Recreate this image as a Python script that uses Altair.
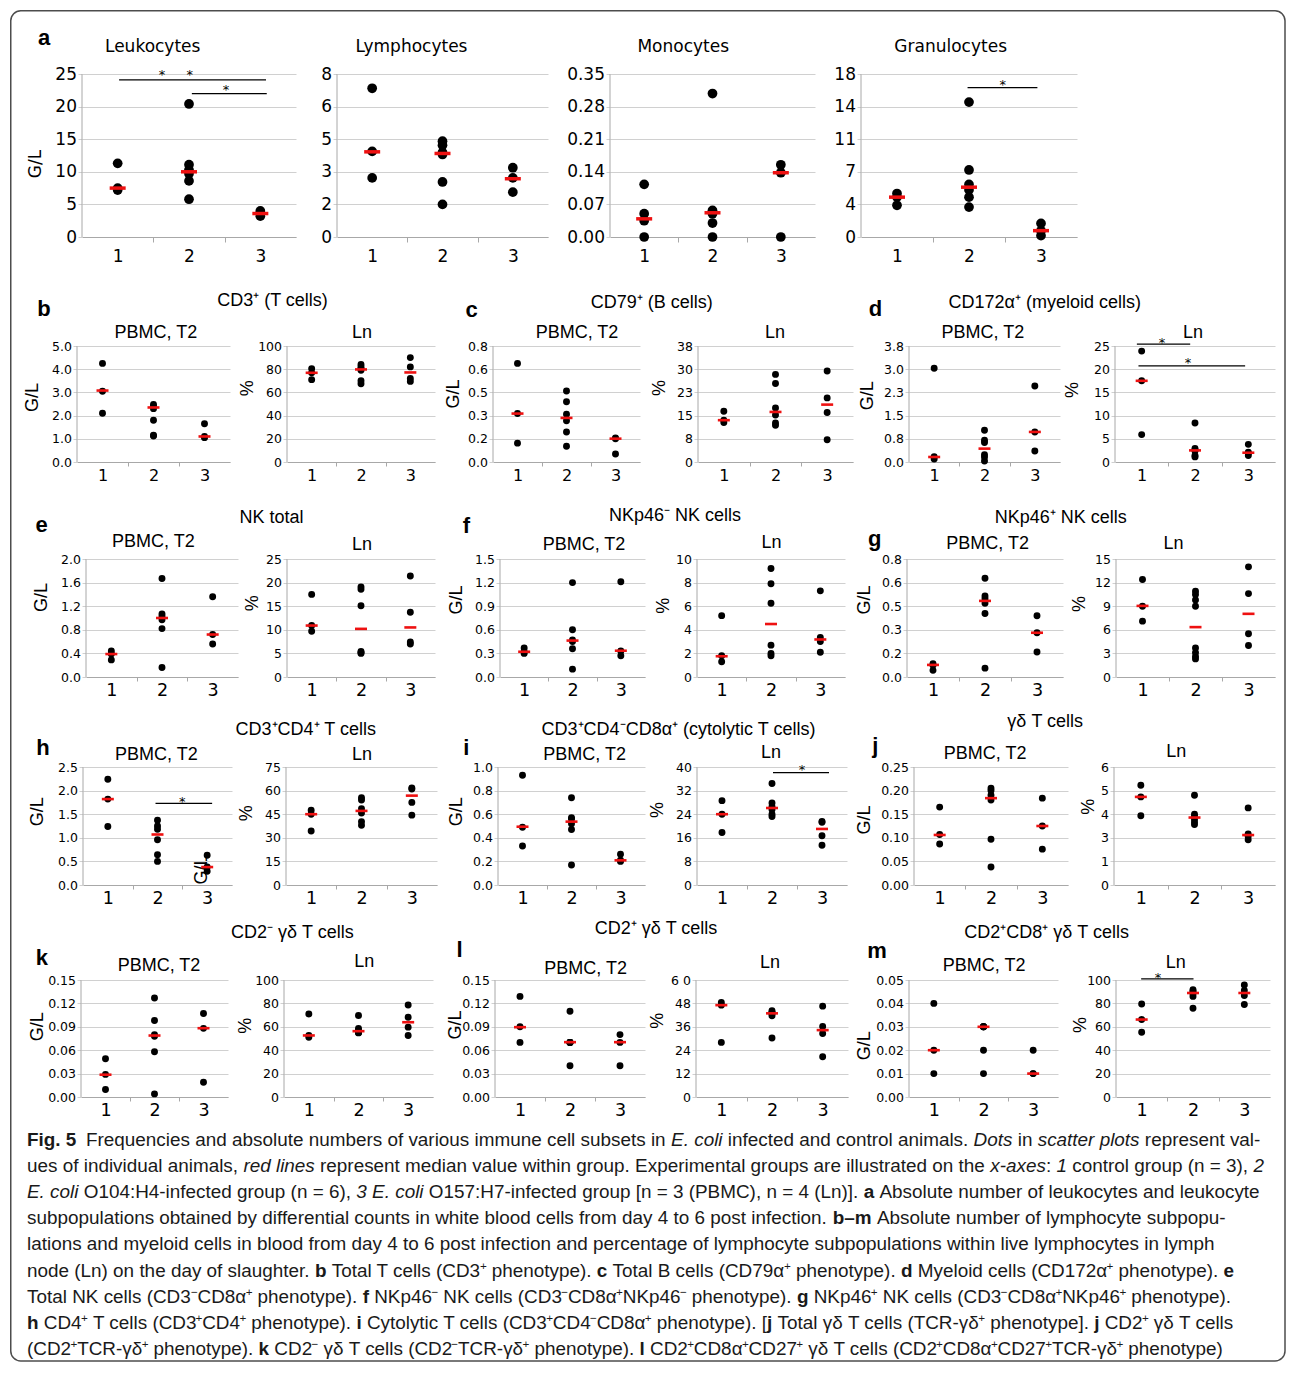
import json
import re
import altair as alt
import pandas as pd

# ------------------------------------------------------------------ data
GROUPS = [1, 2, 3]
X_LABELS = ["1", "2", "3"]

# a
leuko_pts = [[11.3, 7.5, 7.2], [20.4, 11.1, 10.3, 9.7, 8.6, 5.8], [4.0, 3.6, 3.2]]
leuko_med = [7.5, 10.0, 3.6]
leuko_ticks = ["0", "5", "10", "15", "20", "25"]
leuko_max = 25

lympho_pts = [[7.3, 4.2, 2.9], [4.7, 4.5, 4.15, 4.05, 2.7, 1.6], [3.4, 2.9, 2.2]]
lympho_med = [4.18, 4.1, 2.86]
lympho_ticks = ["0", "2", "3", "5", "6", "8"]
lympho_max = 8

mono_pts = [[0.113, 0.05, 0.035, 0.0], [0.308, 0.057, 0.054, 0.05, 0.03, 0.0], [0.155, 0.138, 0.0]]
mono_med = [0.039, 0.052, 0.138]
mono_ticks = ["0.00", "0.07", "0.14", "0.21", "0.28", "0.35"]
mono_max = 0.35

granulo_pts = [[4.8, 4.4, 3.5], [14.9, 7.4, 5.8, 5.2, 4.4, 3.3], [1.5, 0.7, 0.15]]
granulo_med = [4.4, 5.5, 0.7]
granulo_ticks = ["0", "4", "7", "11", "14", "18"]
granulo_max = 18

# b
cd3_pbmc_pts = [[4.25, 3.05, 2.1], [2.48, 2.4, 2.3, 1.8, 1.15, 1.12], [1.65, 1.1, 1.05]]
cd3_pbmc_med = [3.08, 2.35, 1.1]
cd3_pbmc_ticks = ["0.0", "1.0", "2.0", "3.0", "4.0", "5.0"]
cd3_pbmc_max = 5.0
cd3_ln_pts = [[80.5, 77.0, 71.0], [84.0, 82.0, 80.5, 79.0, 70.0, 67.5], [90.0, 82.0, 72.0, 69.5]]
cd3_ln_med = [76.9, 79.8, 77.2]
cd3_ln_ticks = ["0", "20", "40", "60", "80", "100"]
cd3_ln_max = 100
# c
cd79_pbmc_pts = [[0.68, 0.334, 0.13], [0.49, 0.415, 0.33, 0.285, 0.207, 0.108], [0.165, 0.16, 0.055]]
cd79_pbmc_med = [0.334, 0.304, 0.161]
cd79_pbmc_ticks = ["0.0", "0.2", "0.3", "0.5", "0.6", "0.8"]
cd79_pbmc_max = 0.8
cd79_ln_pts = [[16.6, 13.7, 12.9], [28.7, 25.7, 17.7, 15.4, 12.8, 12.0], [29.8, 21.0, 16.2, 7.3]]
cd79_ln_med = [13.7, 16.4, 18.8]
cd79_ln_ticks = ["0", "8", "15", "23", "30", "38"]
cd79_ln_max = 38
# d
cd172_pbmc_pts = [[3.07, 0.17, 0.1], [1.04, 0.71, 0.64, 0.24, 0.16, 0.03], [2.49, 0.985, 0.36]]
cd172_pbmc_med = [0.164, 0.438, 0.985]
cd172_pbmc_ticks = ["0.0", "0.8", "1.5", "2.3", "3.0", "3.8"]
cd172_pbmc_max = 3.8
cd172_ln_pts = [[23.9, 17.5, 5.9], [8.4, 2.9, 2.6, 2.4, 1.4, 1.1], [3.8, 2.1, 1.9, 1.4]]
cd172_ln_med = [17.5, 2.5, 2.0]
cd172_ln_ticks = ["0", "5", "10", "15", "20", "25"]
cd172_ln_max = 25
# e
nk_pbmc_pts = [[0.44, 0.39, 0.29], [1.67, 1.07, 1.03, 0.97, 0.82, 0.16], [1.36, 0.72, 0.56]]
nk_pbmc_med = [0.389, 1.0, 0.72]
nk_pbmc_ticks = ["0.0", "0.4", "0.8", "1.2", "1.6", "2.0"]
nk_pbmc_max = 2.0
nk_ln_pts = [[17.5, 10.9, 9.7], [19.1, 18.6, 15.1, 5.4, 5.2, 5.0], [21.4, 13.7, 7.4, 7.0]]
nk_ln_med = [10.9, 10.2, 10.5]
nk_ln_ticks = ["0", "5", "10", "15", "20", "25"]
nk_ln_max = 25
# f
nkp46neg_pbmc_pts = [[0.37, 0.32, 0.3], [1.2, 0.6, 0.47, 0.45, 0.36, 0.1], [1.21, 0.33, 0.27]]
nkp46neg_pbmc_med = [0.321, 0.463, 0.334]
nkp46neg_pbmc_ticks = ["0.0", "0.3", "0.6", "0.9", "1.2", "1.5"]
nkp46neg_pbmc_max = 1.5
nkp46neg_ln_pts = [[5.2, 1.8, 1.3], [9.2, 7.9, 6.25, 2.7, 2.0, 1.8], [7.3, 3.35, 3.0, 2.1]]
nkp46neg_ln_med = [1.76, 4.49, 3.18]
nkp46neg_ln_ticks = ["0", "2", "4", "6", "8", "10"]
nkp46neg_ln_max = 10
# g
nkp46pos_pbmc_pts = [[0.09, 0.08, 0.045], [0.67, 0.55, 0.53, 0.50, 0.43, 0.06], [0.415, 0.30, 0.17]]
nkp46pos_pbmc_med = [0.082, 0.516, 0.3]
nkp46pos_pbmc_ticks = ["0.0", "0.2", "0.3", "0.5", "0.6", "0.8"]
nkp46pos_pbmc_max = 0.8
nkp46pos_ln_pts = [[12.4, 9.0, 7.1], [10.9, 10.5, 9.8, 9.0, 3.7, 3.1, 2.6, 2.3], [14.0, 10.6, 5.5, 4.0]]
nkp46pos_ln_med = [9.04, 6.34, 8.03]
nkp46pos_ln_ticks = ["0", "3", "6", "9", "12", "15"]
nkp46pos_ln_max = 15
# h
cd4_pbmc_pts = [[2.24, 1.82, 1.24], [1.37, 1.25, 1.18, 0.96, 0.64, 0.5], [0.63, 0.38, 0.29]]
cd4_pbmc_med = [1.82, 1.07, 0.38]
cd4_pbmc_ticks = ["0.0", "0.5", "1.0", "1.5", "2.0", "2.5"]
cd4_pbmc_max = 2.5
cd4_ln_pts = [[47.5, 45.0, 34.3], [55.5, 54.0, 48.5, 45.7, 40.3, 38.0], [61.7, 61.0, 52.5, 44.4]]
cd4_ln_med = [45.0, 47.1, 56.8]
cd4_ln_ticks = ["0", "15", "30", "45", "60", "75"]
cd4_ln_max = 75
# i
ctl_pbmc_pts = [[0.93, 0.49, 0.33], [0.74, 0.57, 0.56, 0.52, 0.47, 0.17], [0.26, 0.21, 0.2]]
ctl_pbmc_med = [0.494, 0.537, 0.209]
ctl_pbmc_ticks = ["0.0", "0.2", "0.4", "0.6", "0.8", "1.0"]
ctl_pbmc_max = 1.0
ctl_ln_pts = [[28.6, 24.0, 17.8], [34.4, 27.8, 26.5, 25.6, 24.0, 23.2], [21.5, 21.3, 16.7, 13.5]]
ctl_ln_med = [24.0, 26.1, 19.0]
ctl_ln_ticks = ["0", "8", "16", "24", "32", "40"]
ctl_ln_max = 40
# j
gd_pbmc_pts = [[0.165, 0.107, 0.087], [0.205, 0.2, 0.19, 0.18, 0.097, 0.038], [0.184, 0.125, 0.076]]
gd_pbmc_med = [0.106, 0.184, 0.125]
gd_pbmc_ticks = ["0.00", "0.05", "0.10", "0.15", "0.20", "0.25"]
gd_pbmc_max = 0.25
gd_ln_pts = [[5.07, 4.48, 3.52], [4.56, 3.6, 3.5, 3.35, 3.2, 3.08], [3.92, 2.6, 2.48, 2.3]]
gd_ln_med = [4.48, 3.43, 2.54]
gd_ln_ticks = ["0", "1", "3", "4", "5", "6"]
gd_ln_max = 6
# k
cd2neg_pbmc_pts = [[0.049, 0.029, 0.0095], [0.127, 0.098, 0.08, 0.078, 0.058, 0.004], [0.107, 0.088, 0.019]]
cd2neg_pbmc_med = [0.0286, 0.0788, 0.0882]
cd2neg_pbmc_ticks = ["0.00", "0.03", "0.06", "0.09", "0.12", "0.15"]
cd2neg_pbmc_max = 0.15
cd2neg_ln_pts = [[71.0, 52.6, 51.0], [69.6, 58.5, 57.0, 55.5, 55.0, 54.8], [78.7, 68.2, 59.7, 52.6]]
cd2neg_ln_med = [52.6, 56.25, 63.9]
cd2neg_ln_ticks = ["0", "20", "40", "60", "80", "100"]
cd2neg_ln_max = 100
# l
cd2pos_pbmc_pts = [[0.129, 0.09, 0.07], [0.11, 0.07, 0.07, 0.07, 0.07, 0.04], [0.08, 0.07, 0.04]]
cd2pos_pbmc_med = [0.0895, 0.0703, 0.0703]
cd2pos_pbmc_ticks = ["0.00", "0.03", "0.06", "0.09", "0.12", "0.15"]
cd2pos_pbmc_max = 0.15
cd2pos_ln_pts = [[48.5, 47.1, 28.0], [44.2, 43.5, 43.1, 42.7, 41.7, 30.3], [46.6, 36.2, 32.6, 20.6]]
cd2pos_ln_med = [47.1, 42.9, 34.3]
cd2pos_ln_ticks = ["0", "12", "24", "36", "48", "6 0"]
cd2pos_ln_max = 60
# m
cd2cd8_pbmc_pts = [[0.04, 0.02, 0.01], [0.03, 0.03, 0.03, 0.03, 0.02, 0.01], [0.02, 0.01, 0.01]]
cd2cd8_pbmc_med = [0.02, 0.03, 0.01]
cd2cd8_pbmc_ticks = ["0.00", "0.01", "0.02", "0.03", "0.04", "0.05"]
cd2cd8_pbmc_max = 0.05
cd2cd8_ln_pts = [[79.5, 66.2, 55.4], [91.8, 90.5, 89.5, 88.3, 86.0, 75.9], [95.7, 91.0, 86.8, 79.0]]
cd2cd8_ln_med = [66.2, 88.9, 88.9]
cd2cd8_ln_ticks = ["0", "20", "40", "60", "80", "100"]
cd2cd8_ln_max = 100

# significance bars [group from, group to, value] and stars [group pos, value]
leuko_bars = [[1.02, 3.08, 24.1], [2.04, 3.09, 22.0]]
leuko_stars = [[1.62, 25.3], [2.01, 25.3], [2.52, 23.0]]
granulo_bars = [[1.98, 2.95, 16.5]]
granulo_stars = [[2.47, 17.2]]
cd172_ln_bars = [[0.91, 1.91, 25.4], [0.94, 2.94, 20.7]]
cd172_ln_stars = [[1.38, 26.4], [1.87, 22.0]]
cd4_pbmc_bars = [[1.96, 3.10, 1.73]]
cd4_pbmc_stars = [[2.50, 1.84]]
ctl_ln_bars = [[2.02, 3.14, 38.1]]
ctl_ln_stars = [[2.60, 40.0]]
cd2cd8_ln_bars = [[0.99, 2.01, 100.9]]
cd2cd8_ln_stars = [[1.32, 105.0]]

PANEL_KEYS = ["leuko", "lympho", "mono", "granulo",
              "cd3_pbmc", "cd3_ln", "cd79_pbmc", "cd79_ln", "cd172_pbmc", "cd172_ln",
              "nk_pbmc", "nk_ln", "nkp46neg_pbmc", "nkp46neg_ln", "nkp46pos_pbmc", "nkp46pos_ln",
              "cd4_pbmc", "cd4_ln", "ctl_pbmc", "ctl_ln", "gd_pbmc", "gd_ln",
              "cd2neg_pbmc", "cd2neg_ln", "cd2pos_pbmc", "cd2pos_ln", "cd2cd8_pbmc", "cd2cd8_ln"]
PANELS = {k: (globals()[k + "_pts"], globals()[k + "_med"], globals()[k + "_ticks"], globals()[k + "_max"])
          for k in PANEL_KEYS}
SIG = {k: (globals()[k + "_bars"], globals()[k + "_stars"])
       for k in ["leuko", "granulo", "cd172_ln", "cd4_pbmc", "ctl_ln", "cd2cd8_ln"]}

# texts
ROW_A_TITLES = [("Leukocytes", 152.7, 52.3), ("Lymphocytes", 411.5, 52.3),
                ("Monocytes", 683.2, 52.3), ("Granulocytes", 950.7, 52.3)]
LETTERS = [("a", 44, 45), ("b", 44, 315.7), ("c", 471.5, 317.3), ("d", 875.5, 315.7),
           ("e", 41.5, 532.3), ("f", 466.4, 533.3), ("g", 874.8, 546), ("h", 42.9, 755),
           ("i", 466.4, 755), ("j", 875.4, 753.3), ("k", 41.9, 965), ("l", 459.6, 956.7),
           ("m", 877, 958.3)]
TITLES = [
    ("PBMC, T2", 155.8, 338.3), ("Ln", 362, 338.3), ("CD3⁺ (T cells)", 272.5, 305.7),
    ("PBMC, T2", 577, 338.3), ("Ln", 775, 338.3), ("CD79⁺ (B cells)", 651.7, 307.7),
    ("PBMC, T2", 982.8, 338.3), ("Ln", 1193, 338.3), ("CD172α⁺ (myeloid cells)", 1044.7, 307.7),
    ("PBMC, T2", 153.4, 546.7), ("Ln", 362, 550), ("NK total", 271.6, 523.3),
    ("PBMC, T2", 584, 550), ("Ln", 771.4, 548.3), ("NKp46⁻ NK cells", 675, 520.7),
    ("PBMC, T2", 987.7, 549.3), ("Ln", 1173.4, 549.3), ("NKp46⁺ NK cells", 1060.8, 522.7),
    ("PBMC, T2", 156.3, 760), ("Ln", 362.1, 760), ("CD3⁺CD4⁺ T cells", 305.8, 735),
    ("PBMC, T2", 584.6, 760), ("Ln", 771, 758.3), ("CD3⁺CD4⁻CD8α⁺ (cytolytic T cells)", 678.5, 735),
    ("PBMC, T2", 985.2, 759.3), ("Ln", 1176.3, 756.7), ("γδ T cells", 1045.2, 726.7),
    ("PBMC, T2", 159, 971), ("Ln", 364.2, 966.7), ("CD2⁻ γδ T cells", 292.3, 938.3),
    ("PBMC, T2", 585.6, 974.3), ("Ln", 769.9, 967.7), ("CD2⁺ γδ T cells", 656, 934),
    ("PBMC, T2", 984.2, 971), ("Ln", 1175.7, 968.3), ("CD2⁺CD8⁺ γδ T cells", 1046.6, 937.7),
]
Y_TITLES = [
    ("G/L", 33.3, 397.5), ("G/L", 454, 394), ("G/L", 868.3, 395.8),
    ("G/L", 41.5, 597.5), ("G/L", 457, 600), ("G/L", 864.5, 600),
    ("G/L", 38.3, 811.7), ("G/L", 457, 811.7), ("G/L", 864.5, 820),
    ("G/L", 38.3, 1026.7), ("G/L", 456, 1025), ("G/L", 864.5, 1045.8),
    ("G/L", 202, 870),
    ("%", 247.5, 388.3), ("%", 660, 388), ("%", 1073.3, 390),
    ("%", 252.5, 603.3), ("%", 664, 605.8), ("%", 1080, 604),
    ("%", 247.3, 813.3), ("%", 657.8, 810), ("%", 1089, 806.7),
    ("%", 246, 1025.8), ("%", 657.8, 1020.8), ("%", 1080.7, 1025),
]
ROW_A_YTITLE = [("G/L", 35.7, 164)]

# caption: **bold**, _italic_, ⁺/⁻ become superscripts
CAPTION = [
    "**Fig. 5**",
    "Frequencies and absolute numbers of various immune cell subsets in _E. coli_ infected and control animals. _Dots_ in _scatter plots_ represent val-",
    "ues of individual animals, _red lines_ represent median value within group. Experimental groups are illustrated on the _x-axes_: _1_ control group (n = 3), _2_",
    "_E. coli_ O104:H4-infected group (n = 6), _3 E. coli_ O157:H7-infected group [n = 3 (PBMC), n = 4 (Ln)]. **a** Absolute number of leukocytes and leukocyte",
    "subpopulations obtained by differential counts in white blood cells from day 4 to 6 post infection. **b–m** Absolute number of lymphocyte subpopu-",
    "lations and myeloid cells in blood from day 4 to 6 post infection and percentage of lymphocyte subpopulations within live lymphocytes in lymph",
    "node (Ln) on the day of slaughter. **b** Total T cells (CD3⁺ phenotype). **c** Total B cells (CD79α⁺ phenotype). **d** Myeloid cells (CD172α⁺ phenotype). **e**",
    "Total NK cells (CD3⁻CD8α⁺ phenotype). **f** NKp46⁻ NK cells (CD3⁻CD8α⁺NKp46⁻ phenotype). **g** NKp46⁺ NK cells (CD3⁻CD8α⁺NKp46⁺ phenotype).",
    "**h** CD4⁺ T cells (CD3⁺CD4⁺ phenotype). **i** Cytolytic T cells (CD3⁺CD4⁻CD8α⁺ phenotype). [**j** Total γδ T cells (TCR-γδ⁺ phenotype]. **j** CD2⁺ γδ T cells",
    "(CD2⁺TCR-γδ⁺ phenotype). **k** CD2⁻ γδ T cells (CD2⁻TCR-γδ⁺ phenotype). **l** CD2⁺CD8α⁺CD27⁺ γδ T cells (CD2⁺CD8α⁺CD27⁺TCR-γδ⁺ phenotype)",
]

# ------------------------------------------------------------------ layout / style
A_X, A_Y = 81.0, 74.0               # page position of the first grid cell
COL_GAP, ROW_GAP = 55, 90
SLOT_W = [150, 152, 150, 155, 155, 158]
COL_X = [A_X]
for _w in SLOT_W[:-1]:
    COL_X.append(COL_X[-1] + _w + COL_GAP)

ROWS = [
    dict(keys=["leuko", "lympho", "mono", "granulo"], cols=[0, 1, 2, 3],
         boxes=[(82, 296), (337, 548), (610, 815), (861, 1077)], vis=163, ext=0, st="big"),
    dict(keys=["cd3_pbmc", "cd3_ln", "cd79_pbmc", "cd79_ln", "cd172_pbmc", "cd172_ln"], cols=[0, 1, 2, 3, 4, 5],
         boxes=[(77, 230), (287, 435), (493, 640), (698, 853), (909, 1060), (1115, 1275)], vis=116, ext=19, st="mid"),
    dict(keys=["nk_pbmc", "nk_ln", "nkp46neg_pbmc", "nkp46neg_ln", "nkp46pos_pbmc", "nkp46pos_ln"], cols=[0, 1, 2, 3, 4, 5],
         boxes=[(86, 238), (287, 435), (500, 645), (697, 845), (907, 1063), (1116, 1275)], vis=118, ext=7, st="small"),
    dict(keys=["cd4_pbmc", "cd4_ln", "ctl_pbmc", "ctl_ln", "gd_pbmc", "gd_ln"], cols=[0, 1, 2, 3, 4, 5],
         boxes=[(83, 232), (286, 437), (498, 645), (697, 847), (914, 1068), (1114, 1275)], vis=118, ext=0, st="small"),
    dict(keys=["cd2neg_pbmc", "cd2neg_ln", "cd2pos_pbmc", "cd2pos_ln", "cd2cd8_pbmc", "cd2cd8_ln"], cols=[0, 1, 2, 3, 4, 5],
         boxes=[(81, 228), (284, 433), (495, 645), (696, 848), (909, 1058), (1116, 1270)], vis=117, ext=5, st="small"),
]
STYLES = {
    "big": dict(dot=95, ml=16, mt=3.5, yfs=17, xfs=17, ytick=4, ypad=1.5, xtick=5, xpad=6.0),
    "mid": dict(dot=48, ml=12, mt=2.6, yfs=12.5, xfs=16, ytick=4, ypad=1.5, xtick=4, xpad=1.5),
    "small": dict(dot=48, ml=12, mt=2.6, yfs=12.5, xfs=17.5, ytick=4, ypad=1.5, xtick=4, xpad=0.5),
}
GRID_C = "#d0d0d0"
AXIS_C = "#a8a8a8"
RED = "#ee1111"
TICK_FONT = "DejaVu Sans"
TITLE_FONT = "Liberation Sans"
CAP_FONT = "Liberation Sans"
CAP_FS = 18.9
CAP_X0, CAP_Y0, CAP_DY = 27, 1146, 26.1
CAP_REST_X = 86
ONE = pd.DataFrame({"o": [0]})

# Arial / Liberation Sans advance widths (per 1000 em) for placing caption pieces
_AR = {" ": 278, "!": 278, "(": 333, ")": 333, "*": 389, "+": 584, ",": 278, "-": 333, ".": 278,
       "/": 278, ":": 278, ";": 278, "=": 584, "[": 278, "]": 278, "–": 556, "−": 584,
       "α": 578, "γ": 500, "δ": 557,
       "A": 667, "B": 667, "C": 722, "D": 722, "E": 667, "F": 611, "G": 778, "H": 722, "I": 278,
       "J": 500, "K": 667, "L": 556, "M": 833, "N": 722, "O": 778, "P": 667, "Q": 778, "R": 722,
       "S": 667, "T": 611, "U": 722, "V": 667, "W": 944, "X": 667, "Y": 667, "Z": 611,
       "a": 556, "b": 556, "c": 500, "d": 556, "e": 556, "f": 278, "g": 556, "h": 556, "i": 222,
       "j": 222, "k": 500, "l": 222, "m": 833, "n": 556, "o": 556, "p": 556, "q": 556, "r": 333,
       "s": 500, "t": 278, "u": 556, "v": 500, "w": 722, "x": 500, "y": 500, "z": 500}
_AB = {"a": 556, "b": 611, "c": 556, "d": 611, "e": 556, "f": 333, "g": 611, "h": 611, "i": 278,
       "j": 278, "k": 556, "l": 278, "m": 889, "F": 611, "–": 556, ".": 278, " ": 278}
_KERN = {("T", "o"): -74, ("T", "a"): -74, ("T", "e"): -74, ("T", "c"): -74, ("T", "s"): -74,
         ("T", "r"): -37, ("T", "u"): -37, ("T", "w"): -37, ("T", "y"): -37, ("T", "i"): -18,
         ("T", "-"): -55, ("T", "."): -55, ("T", ","): -55, (" ", "T"): -18, ("T", " "): -18,
         ("r", "."): -55, ("r", ","): -55, ("y", "."): -55, ("y", ","): -55, ("v", "."): -37,
         ("w", "."): -18, ("P", "."): -111, ("P", ","): -111, ("F", "."): -111, ("L", "T"): -74,
         ("1", "1"): -74, ("A", "T"): -74, ("R", "T"): -18}
SUP_SCALE = 0.62


def _w(s, style, fs):
    tot = 0
    for i, ch in enumerate(s):
        if style == "bold" and ch in _AB:
            tot += _AB[ch]
        else:
            tot += _AR.get(ch, 556)
        if i > 0:
            tot += _KERN.get((s[i - 1], ch), 0)
    return tot * fs / 1000.0


def caption_items():
    out = {"regular": [], "bold": [], "italic": [], "sup": []}
    for i, line in enumerate(CAPTION):
        if i == 0:
            x, y = CAP_X0, CAP_Y0
        elif i == 1:
            x, y = CAP_REST_X, CAP_Y0
        else:
            x, y = CAP_X0, CAP_Y0 + CAP_DY * (i - 1)
        for tok in re.split(r"(\*\*.+?\*\*|_.+?_)", line):
            if not tok:
                continue
            if tok.startswith("**"):
                style, txt = "bold", tok[2:-2]
            elif tok.startswith("_") and tok.endswith("_") and len(tok) > 1:
                style, txt = "italic", tok[1:-1]
            else:
                style, txt = "regular", tok
            for part in re.split(r"([⁺⁻])", txt):
                if not part:
                    continue
                if part in "⁺⁻":
                    sym = "+" if part == "⁺" else "−"
                    out["sup"].append((sym, x - 0.6, y - 0.36 * CAP_FS))
                    x += _w(sym, "regular", CAP_FS * SUP_SCALE) - 0.8
                    continue
                lead = len(part) - len(part.lstrip(" "))
                core = part.strip(" ")
                if core:
                    out[style].append((core, x + _w(" " * lead, style, CAP_FS), y))
                x += _w(part, style, CAP_FS)
    return out


def text_layer(items, **mark):
    df = pd.DataFrame([{"t": t, "x": px - A_X, "y": py - A_Y} for t, px, py in items])
    return alt.Chart(df).mark_text(**mark).encode(
        x=alt.X("x:Q", scale=None, axis=None),
        y=alt.Y("y:Q", scale=None, axis=None),
        text="t:N",
    )


def decorations():
    frame = alt.Chart(ONE).mark_rect(
        fillOpacity=0, stroke="#4d4d4d", strokeWidth=1.5, cornerRadius=10
    ).encode(
        x=alt.value(10.75 - A_X), x2=alt.value(1285 - A_X),
        y=alt.value(10.75 - A_Y), y2=alt.value(1361 - A_Y),
    )
    layers = [frame]
    layers.append(text_layer(ROW_A_TITLES, font=TICK_FONT, fontSize=17, align="center",
                             baseline="alphabetic", color="black"))
    layers.append(text_layer(ROW_A_YTITLE, font=TICK_FONT, fontSize=17, align="center",
                             baseline="middle", angle=270, color="black"))
    layers.append(text_layer(LETTERS, font=TITLE_FONT, fontSize=22, fontWeight="bold",
                             align="center", baseline="alphabetic", color="black"))
    layers.append(text_layer(TITLES, font=TITLE_FONT, fontSize=18, align="center",
                             baseline="alphabetic", color="black"))
    layers.append(text_layer(Y_TITLES, font=TITLE_FONT, fontSize=18, align="center",
                             baseline="middle", angle=270, color="black"))
    cap = caption_items()
    common = dict(font=CAP_FONT, align="left", baseline="alphabetic", color="#1a1a1a")
    layers.append(text_layer(cap["regular"], fontSize=CAP_FS, **common))
    layers.append(text_layer(cap["bold"], fontSize=CAP_FS, fontWeight="bold", **common))
    layers.append(text_layer(cap["italic"], fontSize=CAP_FS, fontStyle="italic", **common))
    layers.append(text_layer(cap["sup"], fontSize=CAP_FS * SUP_SCALE, **common))
    return layers


def make_panel(key, view_w, dx, w_vis, vis, ext, st, extra=None):
    pts, med, ticks, ymax = PANELS[key]
    step = ymax / 5.0
    vals = [round(i * step, 10) for i in range(6)]
    view_h = vis + ext
    dmax = ymax * view_h / vis
    pts_df = pd.DataFrame([{"g": g, "v": v} for g, vs in zip(GROUPS, pts) for v in vs])
    med_df = pd.DataFrame({"g": GROUPS, "m": med})

    x_axis = alt.Axis(
        values=[1, 1.5, 2, 2.5, 3], tickCount=20,
        labelExpr="datum.value % 1 == 0 ? " + json.dumps(X_LABELS) + "[datum.value - 1] : ''",
        tickOpacity={"condition": {"test": "datum.value % 1 != 0", "value": 1}, "value": 0},
        title=None, grid=False, domainColor=AXIS_C, domainWidth=1,
        tickColor=AXIS_C, tickSize=st["xtick"], tickWidth=1,
        labelFont=TICK_FONT, labelFontSize=st["xfs"], labelColor="black",
        labelPadding=st["xpad"], labelOverlap=False, labelFlush=False,
    )
    y_axis = alt.Axis(
        values=vals, tickCount=20, offset=-dx,
        labelExpr=json.dumps(ticks) + "[round(datum.value / " + repr(step) + ")]",
        title=None, grid=True, gridColor=GRID_C, gridWidth=1, domain=False,
        tickColor=GRID_C, tickSize=st["ytick"], tickWidth=1,
        labelFont=TICK_FONT, labelFontSize=st["yfs"], labelColor="black",
        labelPadding=st["ypad"], labelOverlap=False,
    )
    xs = alt.Scale(domain=[0.5, 3.5], range=[dx, dx + w_vis], nice=False, zero=False)
    ys = alt.Scale(domain=[0, dmax], nice=False, zero=True)

    dots = alt.Chart(pts_df).mark_circle(size=st["dot"], color="black", opacity=1).encode(
        x=alt.X("g:Q", scale=xs, axis=x_axis),
        y=alt.Y("v:Q", scale=ys, axis=y_axis),
    )
    yline = alt.Chart(ONE).mark_rule(color=AXIS_C, strokeWidth=1).encode(
        x=alt.X(datum=0.5), y=alt.Y(datum=0), y2=alt.Y2(datum=ymax)
    )
    meds = alt.Chart(med_df).mark_rule(
        color=RED, strokeWidth=st["mt"], xOffset=-st["ml"] / 2, x2Offset=st["ml"] / 2
    ).encode(x="g:Q", x2="g:Q", y="m:Q")
    layers = [dots, yline, meds]
    if key in SIG:
        bars, stars = SIG[key]
        bdf = pd.DataFrame(bars, columns=["a", "b", "y"])
        sdf = pd.DataFrame(stars, columns=["x", "y"])
        layers.append(alt.Chart(bdf).mark_rule(color="black", strokeWidth=1.2).encode(
            x="a:Q", x2="b:Q", y="y:Q"))
        layers.append(alt.Chart(sdf).mark_text(text="*", font=TICK_FONT, fontSize=13,
                                               baseline="alphabetic", dy=7.4, fill="black",
                                               color="black").encode(
            x="x:Q", y="y:Q"))
    if extra:
        layers += extra
    return alt.layer(*layers).properties(width=view_w, height=view_h)


charts = []
for ri, row in enumerate(ROWS):
    st = STYLES[row["st"]]
    used = set()
    for k, c, (L, R) in zip(row["keys"], row["cols"], row["boxes"]):
        extra = decorations() if (ri == 0 and c == 0) else None
        charts.append(make_panel(k, SLOT_W[c], L - COL_X[c], R - L, row["vis"], row["ext"], st, extra))
        used.add(c)
    for c in range(6):
        if c not in used:
            charts.append(alt.Chart(ONE).mark_text(text="").properties(
                width=SLOT_W[c], height=row["vis"] + row["ext"]))

chart = alt.concat(*charts, columns=6, spacing={"row": ROW_GAP, "column": COL_GAP}).properties(
    bounds="flush", align="each", padding={"left": 2, "top": 2, "right": 0, "bottom": 0}
).configure_view(strokeOpacity=0)

chart.save("out.html", embed_options={"renderer": "svg", "actions": False})
